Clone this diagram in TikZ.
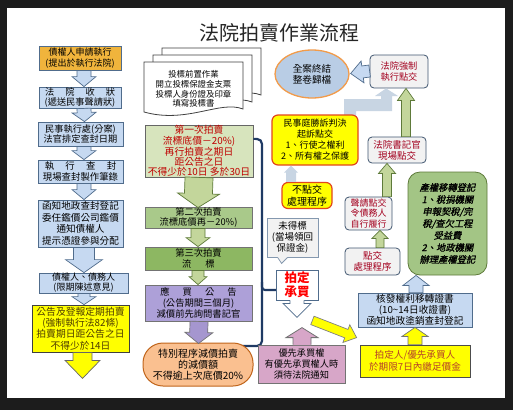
\documentclass[tikz,border=0pt]{standalone}
\usepackage{fontspec}
\setmainfont{Noto Sans CJK TC}
\newfontfamily\cjkit[FakeSlant=0.2,FakeBold=1.2]{Noto Sans CJK TC}
\usetikzlibrary{calc,shapes.geometric}
\newcommand\fsz[2]{\fontsize{#1}{#2}\selectfont}
\definecolor{frame}{HTML}{1C1C1C}
\definecolor{gold}{HTML}{F0B43C}
\definecolor{lblue}{HTML}{C6D9F1}
\definecolor{bborder}{HTML}{506C8C}
\definecolor{ylw}{HTML}{FFFF00}
\definecolor{gA}{HTML}{D7E4BD}
\definecolor{gB}{HTML}{A9C98A}
\definecolor{gC}{HTML}{8DB762}
\definecolor{garrow}{HTML}{C3D69B}
\definecolor{gborder}{HTML}{5E7A3A}
\definecolor{purp}{HTML}{ADA0D8}
\definecolor{parrow}{HTML}{A596CF}
\definecolor{ovfill}{HTML}{FAC090}
\definecolor{ovborder}{HTML}{C0641A}
\definecolor{navy}{HTML}{1F3A64}
\definecolor{ellfill}{HTML}{B9CDE5}
\definecolor{ellborder}{HTML}{F29B4A}
\definecolor{grayf}{HTML}{F2F2F2}
\definecolor{dred}{HTML}{A3001E}
\definecolor{rorange}{HTML}{E2461C}
\definecolor{pale}{HTML}{C8D5E3}
\definecolor{pink}{HTML}{D7A6C8}
\definecolor{gD}{HTML}{A3C585}
\definecolor{olive}{HTML}{4D3B00}
\definecolor{rbrown}{HTML}{B5402A}
\newcommand\blockarrow[6]{%
  \coordinate (baA) at #2;
  \coordinate (baB) at #3;
  \coordinate (baH) at ($(baB)!#6!(baA)$);
  \path[#1] ($(baA)!#4!90:(baB)$) -- ($(baH)!#4!90:(baB)$) -- ($(baH)!#5!90:(baB)$) -- (baB) -- ($(baH)!#5!-90:(baB)$) -- ($(baH)!#4!-90:(baB)$) -- ($(baA)!#4!-90:(baB)$) -- cycle;
}
\tikzset{
  box/.style={draw=bborder, line width=0.8pt, inner sep=0pt, align=center, text=black},
  bluebox/.style={box, fill=lblue},
  graybox/.style={box, fill=grayf, draw=bborder!80!black, rounded corners=4pt, text=dred},
  ybox/.style={box, fill=ylw, draw=rorange, line width=1.2pt, rounded corners=6pt},
  bluearrow/.style={fill=lblue, draw=bborder, line width=0.7pt},
  greenarrow/.style={fill=garrow, draw=gborder, line width=0.7pt},
  brace/.style={draw=navy, line width=2.2pt},
  doc/.style={fill=white, draw=black!75, line width=0.8pt},
}
\begin{document}
\begin{tikzpicture}[x=1pt,y=-1pt]
\useasboundingbox (0,0) rectangle (513,410);
\fill[frame] (0,0) rectangle (513,410);
\fill[white] (7,8) rectangle (505,398);
% title
\node[font=\fsz{20}{22}, text=black!85] (title) at (279,33) {法院拍賣作業流程};
% ---------------- left column
\node[box, fill=gold, minimum width=82, minimum height=24, font=\fsz{9}{10.5}] (L1) at (80,58) {債權人申請執行\\(提出於執行法院)};
\node[bluebox, minimum width=82, minimum height=21, font=\fsz{9.2}{10}] (L2) at (80,97.5) {法\hspace{1.2em}院\hspace{1.2em}收\hspace{1.2em}狀\\(遞送民事聲請狀)};
\node[bluebox, minimum width=85, minimum height=24, font=\fsz{9.2}{10.5}] (L3) at (80.5,134) {民事執行處(分案)\\法官排定查封日期};
\node[bluebox, minimum width=85, minimum height=23, font=\fsz{9.4}{10.5}] (L4) at (80.5,171.5) {執\hspace{1.2em}行\hspace{1.2em}查\hspace{1.2em}封\\現場查封製作筆錄};
\node[bluebox, minimum width=85, minimum height=47, font=\fsz{9.6}{11.5}] (L5) at (80.5,223.5) {函知地政查封登記\\委任鑑價公司鑑價\\通知債權人\\提示憑證參與分配};
\node[bluebox, minimum width=89, minimum height=20, font=\fsz{9}{10}] (L6) at (83.5,283) {債權人、債務人\\(限期陳述意見)};
\node[box, fill=ylw, draw=black!75, minimum width=97, minimum height=47, font=\fsz{9.8}{11.3}, text=olive] (L7) at (80.5,328.5) {公告及登報定期拍賣\\(強制執行法82條)\\拍賣期日距公告之日\\不得少於14日};
\blockarrow{bluearrow}{([xshift=4pt]L1.south)}{([xshift=4pt]L2.north)}{7pt}{12pt}{10pt}
\blockarrow{bluearrow}{([xshift=4pt]L2.south)}{([xshift=4pt]L3.north)}{7pt}{12pt}{9pt}
\blockarrow{bluearrow}{([xshift=3.5pt]L3.south)}{([xshift=3.5pt]L4.north)}{7pt}{12pt}{9pt}
\blockarrow{bluearrow}{([xshift=3.5pt]L4.south)}{([xshift=3.5pt]L5.north)}{7pt}{12pt}{10pt}
\blockarrow{bluearrow}{([xshift=3.5pt]L5.south)}{([xshift=0.5pt]L6.north)}{10.5pt}{18.5pt}{13pt}
\blockarrow{bluearrow}{([xshift=0.5pt]L6.south)}{([xshift=3.5pt]L7.north)}{6pt}{12pt}{8pt}
\coordinate (L7end) at ($(L7.south)+(2,26)$);
\blockarrow{fill=ylw, draw=black!60, line width=0.7pt}{([xshift=2pt]L7.south)}{(L7end)}{9.5pt}{17.5pt}{18pt}
% ---------------- middle column
\path[doc] (162,48) -- (261,48) -- (261,95) .. controls (238,86) and (205,110) .. (162,98) -- cycle;
\path[doc] (153,55) -- (252,55) -- (252,102) .. controls (229,93) and (196,117) .. (153,105) -- cycle;
\path[doc] (144,62) -- (243,62) -- (243,109) .. controls (220,100) and (187,124) .. (144,112) -- cycle;
\node[font=\fsz{8.4}{9.6}, align=center, inner sep=0pt] (DOC) at (193.5,89) {投標前置作業\\開立投標保證金支票\\投標人身份證及印章\\填寫投標書};
\node[box, fill=gA, draw=black!60, minimum width=108, minimum height=52, font=\fsz{9.8}{10.2}, text=red!75!black] (M1) at (199,151) {第一次拍賣\\流標底價－20\%)\\再行拍賣之期日\\距公告之日\\不得少於10日 多於30日};
\node[box, fill=gB, draw=black!55, minimum width=107, minimum height=21, font=\fsz{9.3}{10.3}] (M2) at (198.5,217.5) {第二次拍賣\\流標底價再－20\%)};
\node[box, fill=gC, draw=black!55, minimum width=107, minimum height=23, font=\fsz{9.3}{10.3}] (M3) at (198.5,258.5) {第三次拍賣\\流\hspace{1.5em}標};
\node[box, fill=purp, draw=black!55, minimum width=107, minimum height=36, font=\fsz{9.3}{10.8}] (M4) at (198.5,303) {應\hspace{1.4em}買\hspace{1.4em}公\hspace{1.4em}告\\(公告期間三個月)\\減價前先詢問書記官};
\blockarrow{greenarrow}{([xshift=0pt]M1.south)}{([xshift=-0.5pt,yshift=-1pt]M2.north)}{14pt}{21pt}{14pt}
\blockarrow{greenarrow}{([xshift=-0.5pt]M2.south)}{([xshift=-0.5pt]M3.north)}{7pt}{12pt}{9pt}
\blockarrow{greenarrow}{([xshift=-0.5pt]M3.south)}{([xshift=-0.5pt]M4.north)}{6pt}{9pt}{8pt}
% brace
\coordinate (brtop) at ($(M1.north east)!0.27!(M1.south east)$);
\draw[brace, rounded corners=5pt] (brtop) -- (262,139) -- (262,346) -- (240,346);
\draw[brace, rounded corners=3pt] (262,282) -- (262,290) -- (276,290);
\node[box, fill=ovfill, draw=ovborder, line width=1pt, rounded corners=20pt, minimum width=110, minimum height=43, font=\fsz{10}{11.2}] (OV) at (198,364.5) {特別程序減價拍賣\\的減價額\\不得逾上次底價20\%};
\blockarrow{fill=parrow, draw=black!55, line width=0.7pt}{([xshift=0.5pt]M4.south)}{([xshift=0.5pt,yshift=-1pt]OV.north)}{9pt}{14pt}{11pt}
% ---------------- right-middle column
\node[ellipse, fill=ellfill, draw=ellborder, line width=1.3pt, minimum width=74, minimum height=48, inner sep=0pt, align=center, font=\fsz{9.6}{11}] (EL) at (312,74) {全案終結\\整卷歸檔};
\node[graybox, minimum width=58, minimum height=33, font=\fsz{9.2}{11}] (F1) at (399,71.5) {法院強制\\執行點交};
\blockarrow{bluearrow}{([yshift=0.5pt]F1.west)}{([yshift=0.5pt,xshift=1pt]EL.east)}{6pt}{11pt}{12pt}
% pale elbow arrow (民事庭 -> 法院強制)
\coordinate (C1ne) at (358,115);
\path[fill=pale] ($(C1ne)+(-14,3)$) -- ($(C1ne)+(-14,-16)$) -- ($(C1ne)+(23,-16)$) -- ($(C1ne)+(23,-19)$) -- ($(C1ne)+(17,-19)$) -- ([xshift=16.5pt]F1.south west) -- ($(C1ne)+(40,-19)$) -- ($(C1ne)+(34,-19)$) -- ($(C1ne)+(34,-4)$) -- ($(C1ne)+(-2,-4)$) -- ($(C1ne)+(-2,3)$) -- cycle;
\node[ybox, minimum width=86, minimum height=50, font=\fsz{9}{11}] (C1) at (315,140) {民事庭勝訴判決\\起訴點交\\1、行使之權利\\2、所有權之保護};
\node[ybox, minimum width=50, minimum height=26, font=\fsz{10}{11.5}] (C2) at (307,195.5) {不點交\\處理程序};
\blockarrow{fill=pale}{([xshift=-16pt]C2.north)}{([xshift=-24pt]C1.south)}{5pt}{7pt}{7pt}
\node[box, fill=grayf, draw=bborder!70, minimum width=51, minimum height=39, font=\fsz{9.5}{11}] (UB) at (292.5,237.5) {未得標\\(當場領回\\保證金)};
\fill[grayf] ($(UB.south west)+(11,-0.5)$) -- ($(UB.south west)+(15,6)$) -- ($(UB.south west)+(21,-0.5)$) -- cycle;
\draw[bborder!70, line width=0.8pt] ($(UB.south west)+(11,0)$) -- ($(UB.south west)+(15,6)$) -- ($(UB.south west)+(21,0)$);
\node[box, fill=white, draw=bborder, minimum width=42, minimum height=30, font=\fsz{12.5}{14}\bfseries, text=red] (PK) at (297,285) {拍定\\承買};
\fill[white] ($(PK.south)+(-7,-0.5)$) -- ++(0,3.5) -- ++(-7,0) -- ($(PK.south)+(0,17)$) -- ($(PK.south)+(14,3)$) -- ++(-7,0) -- ++(0,-3.5) -- cycle;
\draw[bborder, line width=0.8pt] ($(PK.south)+(-7,0)$) -- ++(0,3) -- ++(-7,0) -- ($(PK.south)+(0,17)$) -- ($(PK.south)+(14,3)$) -- ++(-7,0) -- ++(0,-3);
\node[box, fill=pink, draw=black!55, minimum width=87, minimum height=38, font=\fsz{9.2}{11}] (YP) at (301.5,364) {優先承買權\\有優先承買權人時\\須待法院通知};
\fill[pink] ($(YP.north)+(-8.5,0.5)$) -- ++(0,-7.5) -- ++(-7,0) -- ($(YP.north)+(0.5,-17)$) -- ($(YP.north)+(16.5,-7)$) -- ++(-7,0) -- ++(0,7.5) -- cycle;
\draw[black!55, line width=0.8pt] ($(YP.north)+(-8.5,0)$) -- ++(0,-7) -- ++(-7,0) -- ($(YP.north)+(0.5,-17)$) -- ($(YP.north)+(16.5,-7)$) -- ++(-7,0) -- ++(0,7);
% ---------------- right column
\node[graybox, minimum width=58, minimum height=26, font=\fsz{9.5}{11}] (R1) at (397,150) {法院書記官\\現場點交};
\blockarrow{greenarrow}{([xshift=9pt]R1.north)}{([xshift=7pt]F1.south)}{4.5pt}{8.5pt}{12pt}
\node[graybox, minimum width=47, minimum height=33, font=\fsz{9}{10.5}] (R2) at (368.5,213.5) {聲請點交\\令債務人\\自行履行};
\blockarrow{greenarrow}{([xshift=18.5pt]R2.north)}{([xshift=-10pt]R1.south)}{4.5pt}{8.5pt}{10pt}
\node[graybox, minimum width=55, minimum height=27, font=\fsz{9.5}{11}] (R3) at (372.5,261.5) {點交\\處理程序};
\blockarrow{greenarrow}{([xshift=7.5pt]R3.north)}{([xshift=11.5pt]R2.south)}{4pt}{8pt}{8pt}
\node[box, fill=gD, draw=gborder, rounded corners=12pt, minimum width=79, minimum height=103, font=\cjkit\fsz{9.3}{12}] (R4) at (447.5,223.5) {產權移轉登記\\1、稅捐機關\\申報契稅/完\\稅/查欠工程\\受益費\\2、地政機關\\辦理產權登記};
\node[bluebox, minimum width=114, minimum height=34, font=\fsz{9.7}{10.8}] (R5) at (415,310) {核發權利移轉證書\\(10\textasciitilde 14日收證書)\\函知地政塗銷查封登記};
\blockarrow{bluearrow}{([xshift=1pt]R5.north)}{([xshift=-31.5pt]R4.south)}{7pt}{13pt}{10pt}
\node[box, fill=ylw, draw=black!70, minimum width=110, minimum height=32, font=\fsz{9.6}{11.5}, text=rbrown] (R6) at (415,361) {拍定人/優先承買人\\於期限7日內繳足價金};
\blockarrow{fill=ylw, draw=black!55, line width=0.7pt}{(R6.north)}{(R5.south)}{7pt}{13pt}{9pt}
% diagonal yellow arrow
\blockarrow{fill=ylw, draw=black!50, line width=0.7pt}{($(PK.south east)+(-6,20)$)}{($(R6.north west)+(-3,-7)$)}{4.5pt}{9.5pt}{11pt}
\end{tikzpicture}
\end{document}
